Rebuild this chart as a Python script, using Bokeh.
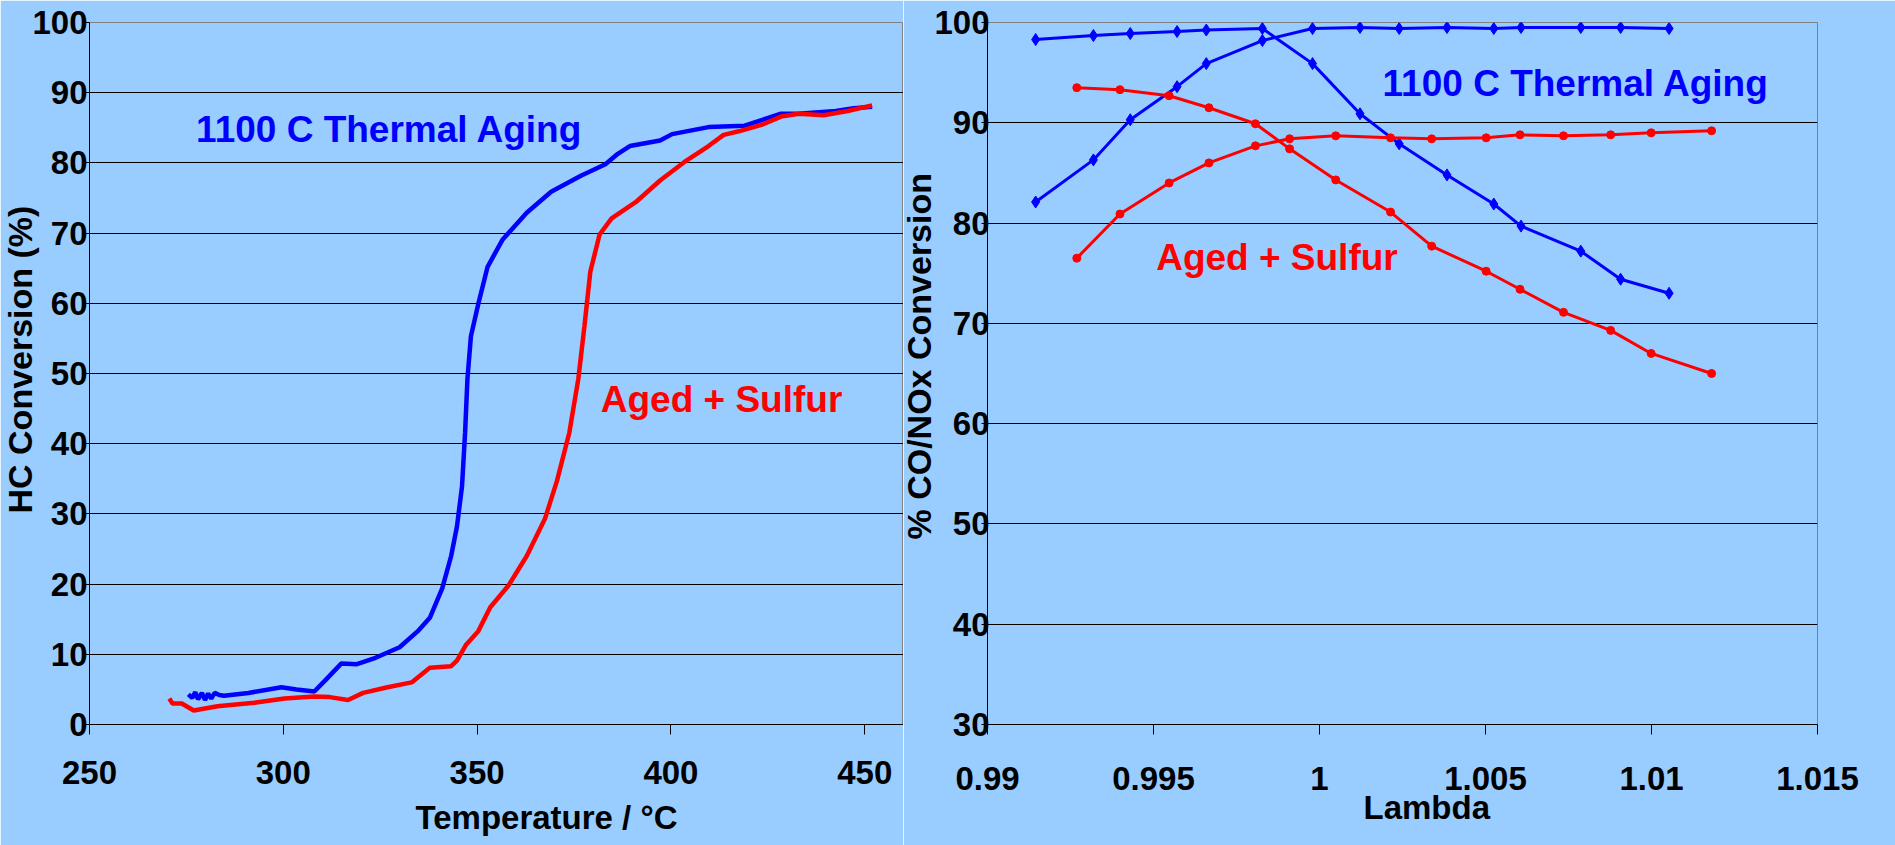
from bokeh.plotting import figure
from bokeh.layouts import row
from bokeh.models import Range1d, FixedTicker, Label, Title, NumeralTickFormatter
from bokeh.embed import file_html
from bokeh.resources import INLINE

BG = "#99CCFF"
FONT = "Liberation Sans"
BLUE = "#0000FF"
RED = "#FF0000"

# ---------------- Left chart data: HC conversion vs temperature ----------------
hc_thermal_temp = [275.5, 276.5, 277.3, 278.0, 279.0, 279.8, 280.6, 281.4, 282.3, 283.5,
                   284.7, 291.0, 299.5, 303.4, 308.0, 311.0, 315.0, 319.0, 323.8, 330.0,
                   334.7, 337.8, 341.0, 343.3, 344.8, 346.1, 346.9, 347.5, 348.4, 350.3,
                   352.7, 356.6, 362.8, 369.1, 376.9, 383.1, 386.3, 389.4, 397.2, 400.3,
                   409.7, 419.0, 424.5, 428.4, 433.0, 442.5, 447.2, 451.9]
hc_thermal_conv = [4.3, 3.8, 4.6, 3.6, 4.5, 3.5, 4.4, 3.7, 4.5, 4.2,
                   4.1, 4.5, 5.3, 5.0, 4.7, 6.4, 8.7, 8.6, 9.5, 11.0,
                   13.3, 15.2, 19.4, 24.0, 28.2, 33.9, 41.6, 49.2, 55.3, 59.9,
                   65.2, 69.1, 72.9, 75.9, 78.2, 79.8, 81.3, 82.4, 83.2, 84.1,
                   85.1, 85.3, 86.3, 87.0, 87.0, 87.4, 87.8, 88.0]

hc_sulfur_temp = [270.6, 271.4, 273.8, 276.9, 283.0, 292.5, 300.3, 308.0, 312.0, 316.7,
                  320.6, 326.9, 333.1, 337.8, 343.3, 344.8, 347.2, 350.3, 353.4, 358.1,
                  362.8, 367.5, 370.6, 373.8, 376.1, 377.7, 379.2, 381.6, 384.7, 390.9,
                  397.2, 403.4, 409.7, 413.6, 417.5, 423.8, 428.4, 433.0, 439.4, 445.6, 451.9]
hc_sulfur_conv = [3.7, 3.0, 3.0, 2.0, 2.6, 3.1, 3.7, 4.0, 3.9, 3.5,
                  4.5, 5.3, 6.0, 8.1, 8.3, 9.1, 11.4, 13.3, 16.7, 19.8,
                  24.0, 29.3, 34.7, 41.6, 49.2, 56.8, 64.5, 69.8, 72.1, 74.4,
                  77.5, 80.1, 82.4, 84.0, 84.5, 85.5, 86.6, 87.0, 86.8, 87.4, 88.2]

temp_ticks = [250, 300, 350, 400, 450]
hc_ticks = [0, 10, 20, 30, 40, 50, 60, 70, 80, 90, 100]

# ---------------- Right chart data: CO / NOx conversion vs lambda ----------------
lambda_thermal = [0.99145, 0.99319, 0.99430, 0.99571, 0.99659, 0.99828, 0.99979, 1.00122,
                  1.00240, 1.00384, 1.00525, 1.00607, 1.00787, 1.00907, 1.01053]
co_thermal = [98.3, 98.7, 98.9, 99.1, 99.25, 99.4, 95.9, 90.9,
              87.9, 84.8, 81.9, 79.7, 77.2, 74.4, 73.0]
nox_thermal = [82.1, 86.3, 90.3, 93.6, 95.9, 98.2, 99.4, 99.5,
               99.4, 99.5, 99.4, 99.5, 99.5, 99.5, 99.4]

lambda_sulfur = [0.99269, 0.99399, 0.99547, 0.99667, 0.99807, 0.99910, 1.00049, 1.00214,
                 1.00338, 1.00502, 1.00604, 1.00735, 1.00877, 1.00999, 1.01181]
co_sulfur = [93.5, 93.3, 92.7, 91.5, 89.9, 87.4, 84.3, 81.1,
             77.7, 75.2, 73.4, 71.1, 69.3, 67.0, 65.0]
nox_sulfur = [76.5, 80.9, 84.0, 86.0, 87.7, 88.4, 88.7, 88.5,
              88.4, 88.5, 88.8, 88.7, 88.8, 89.0, 89.2]

lambda_ticks = [0.99, 0.995, 1.0, 1.005, 1.01, 1.015]
conv_ticks = [30, 40, 50, 60, 70, 80, 90, 100]


def text_kw(size, color):
    return dict(text_font=FONT, text_font_style="bold", text_font_size=size, text_color=color)


def style_y(ax, tick_standoff):
    ax.major_label_text_font = FONT
    ax.major_label_text_font_style = "bold"
    ax.major_label_text_font_size = "33px"
    ax.major_label_text_color = "black"
    ax.major_label_standoff = tick_standoff
    ax.major_tick_out = 6
    ax.major_tick_in = 0
    ax.minor_tick_line_color = None
    ax.axis_line_color = "black"
    ax.major_tick_line_color = "black"


def style_x(ax, standoff):
    ax.major_tick_out = 10
    ax.major_tick_in = 0
    ax.minor_tick_line_color = None
    ax.axis_line_color = "black"
    ax.major_tick_line_color = "black"
    ax.major_label_standoff = standoff
    ax.major_label_text_font = FONT
    ax.major_label_text_font_style = "bold"
    ax.major_label_text_font_size = "33px"
    ax.major_label_text_color = "black"


TOP = 22
BOTTOM = 118
H = 845

# ---------------- Left figure ----------------
p1 = figure(width=903, height=H, x_range=Range1d(250, 460), y_range=Range1d(0, 100),
            output_backend="svg", toolbar_location=None,
            min_border_left=89, min_border_right=0, min_border_top=TOP, min_border_bottom=BOTTOM,
            background_fill_color=BG, border_fill_color=BG,
            outline_line_color="#808080", outline_line_width=1)
p1.xaxis.ticker = FixedTicker(ticks=temp_ticks)
style_x(p1.xaxis[0], 26)
p1.yaxis.ticker = FixedTicker(ticks=hc_ticks)
style_y(p1.yaxis[0], -4)
p1.xgrid.visible = False
p1.ygrid.ticker = FixedTicker(ticks=hc_ticks[1:-1])
p1.ygrid.grid_line_color = "black"
p1.ygrid.grid_line_width = 1
p1.add_layout(Title(text="Temperature / °C", align="left", offset=326, standoff=20,
                    **text_kw("33px", "black")), "below")
p1.add_layout(Title(text="HC Conversion (%)", align="left", offset=211, standoff=-19,
                    **text_kw("34px", "black")), "left")

p1.line(hc_thermal_temp, hc_thermal_conv, line_color=BLUE, line_width=4.5)
p1.line(hc_sulfur_temp, hc_sulfur_conv, line_color=RED, line_width=4.5)

p1.add_layout(Label(x=277.5, y=84.8, text="1100 C Thermal Aging", text_baseline="alphabetic",
                    **text_kw("37px", BLUE)))
p1.add_layout(Label(x=381.9, y=46.3, text="Aged + Sulfur", text_baseline="alphabetic",
                    **text_kw("37px", RED)))

# ---------------- Right figure ----------------
p2 = figure(width=992, height=H, x_range=Range1d(0.99, 1.015), y_range=Range1d(30, 100),
            output_backend="svg", toolbar_location=None,
            min_border_left=84, min_border_right=78, min_border_top=TOP, min_border_bottom=BOTTOM,
            background_fill_color=BG, border_fill_color=BG,
            outline_line_color="#808080", outline_line_width=1)
p2.xaxis.ticker = FixedTicker(ticks=lambda_ticks)
p2.xaxis.formatter = NumeralTickFormatter(format="0.[000]")
style_x(p2.xaxis[0], 32)
p2.yaxis.ticker = FixedTicker(ticks=conv_ticks)
style_y(p2.yaxis[0], -8)
p2.xgrid.visible = False
p2.ygrid.ticker = FixedTicker(ticks=conv_ticks[1:])
p2.ygrid.grid_line_color = "black"
p2.ygrid.grid_line_width = 1
p2.add_layout(Title(text="Lambda", align="left", offset=376, standoff=-12,
                    **text_kw("33px", "black")), "below")
p2.add_layout(Title(text="% CO/NOx Conversion", align="left", offset=185, standoff=-13,
                    **text_kw("34px", "black")), "left")

for ys in (co_thermal, nox_thermal):
    p2.line(lambda_thermal, ys, line_color=BLUE, line_width=3)
    p2.scatter(lambda_thermal, ys, marker="diamond", size=12, fill_color=BLUE, line_color=BLUE)
for ys in (co_sulfur, nox_sulfur):
    p2.line(lambda_sulfur, ys, line_color=RED, line_width=3)
    p2.scatter(lambda_sulfur, ys, marker="circle", size=8, fill_color=RED, line_color=RED)

p2.add_layout(Label(x=1.0019, y=93.95, text="1100 C Thermal Aging", text_baseline="alphabetic",
                    **text_kw("37px", BLUE)))
p2.add_layout(Label(x=0.99508, y=76.6, text="Aged + Sulfur", text_baseline="alphabetic",
                    **text_kw("37px", RED)))

layout = row(p1, p2)
html = file_html(layout, INLINE)
html = html.replace("<body>", '<body style="background-color:#99CCFF;">', 1)
open("out.html", "w").write(html)
